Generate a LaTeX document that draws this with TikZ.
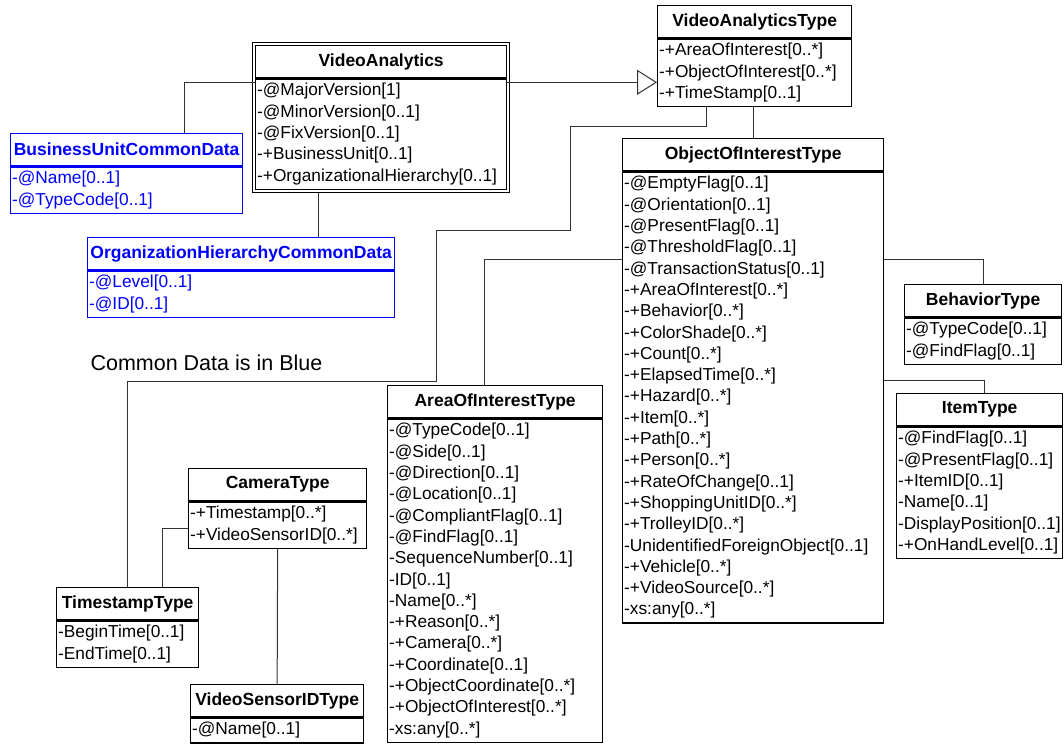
\documentclass[tikz,border=0pt]{standalone}
\usepackage{fontspec}
\setmainfont{Liberation Sans}
\usetikzlibrary{positioning, fit, arrows.meta}

\begin{document}
\begin{tikzpicture}[x=1pt, y=-1pt,
  classhead/.style={rectangle, draw, line width=1.3pt, inner sep=0pt, minimum height=32pt, font=\fontsize{17.5}{21}\selectfont\bfseries},
  classbody/.style={rectangle, draw, line width=1.3pt, inner xsep=1.5pt, inner ysep=4.5pt, align=left, font=\fontsize{17.3}{21.3}\selectfont},
  common/.style={draw=blue, text=blue},
  link/.style={draw=black!80, line width=1pt}]

  \useasboundingbox (0,0) rectangle (1064,746);

  % Nodes
  \node[classhead, minimum width=251pt, anchor=north west] (va) at (255,45) {VideoAnalytics};
  \node[classbody, text width=248pt, below=0pt of va] (va-attr) {-@MajorVersion[1]\\-@MinorVersion[0..1]\\-@FixVersion[0..1]\\-+BusinessUnit[0..1]\\-+OrganizationalHierarchy[0..1]};
  \node[fit=(va)(va-attr), draw, line width=1.3pt, inner sep=2.5pt] (va-frame) {};

  \node[classhead, common, minimum width=232pt, anchor=north west] (bucd) at (10,133) {BusinessUnitCommonData};
  \node[classbody, common, text width=229pt, below=0pt of bucd] (bucd-attr) {-@Name[0..1]\\-@TypeCode[0..1]};

  \node[classhead, common, minimum width=307pt, anchor=north west] (ohcd) at (87,237) {OrganizationHierarchyCommonData};
  \node[classbody, common, text width=304pt, below=0pt of ohcd] (ohcd-attr) {-@Level[0..1]\\-@ID[0..1]};

  \node[classhead, minimum width=194pt, anchor=north west] (vat) at (657,5) {VideoAnalyticsType};
  \node[classbody, text width=191pt, below=0pt of vat] (vat-attr) {-+AreaOfInterest[0..*]\\-+ObjectOfInterest[0..*]\\-+TimeStamp[0..1]};

  \node[classhead, minimum width=261pt, anchor=north west] (oit) at (622,138) {ObjectOfInterestType};
  \node[classbody, text width=258pt, below=0pt of oit] (oit-attr) {-@EmptyFlag[0..1]\\-@Orientation[0..1]\\-@PresentFlag[0..1]\\-@ThresholdFlag[0..1]\\-@TransactionStatus[0..1]\\-+AreaOfInterest[0..*]\\-+Behavior[0..*]\\-+ColorShade[0..*]\\-+Count[0..*]\\-+ElapsedTime[0..*]\\-+Hazard[0..*]\\-+Item[0..*]\\-+Path[0..*]\\-+Person[0..*]\\-+RateOfChange[0..1]\\-+ShoppingUnitID[0..*]\\-+TrolleyID[0..*]\\-UnidentifiedForeignObject[0..1]\\-+Vehicle[0..*]\\-+VideoSource[0..*]\\-xs:any[0..*]};

  \node[classhead, minimum width=215pt, anchor=north west] (aoit) at (387,385) {AreaOfInterestType};
  \node[classbody, text width=212pt, below=0pt of aoit] (aoit-attr) {-@TypeCode[0..1]\\-@Side[0..1]\\-@Direction[0..1]\\-@Location[0..1]\\-@CompliantFlag[0..1]\\-@FindFlag[0..1]\\-SequenceNumber[0..1]\\-ID[0..1]\\-Name[0..*]\\-+Reason[0..*]\\-+Camera[0..*]\\-+Coordinate[0..1]\\-+ObjectCoordinate[0..*]\\-+ObjectOfInterest[0..*]\\-xs:any[0..*]};

  \node[classhead, minimum width=157pt, anchor=north west] (bt) at (904,284) {BehaviorType};
  \node[classbody, text width=154pt, below=0pt of bt] (bt-attr) {-@TypeCode[0..1]\\-@FindFlag[0..1]};

  \node[classhead, minimum width=166pt, anchor=north west] (it) at (896,393) {ItemType};
  \node[classbody, text width=163pt, below=0pt of it] (it-attr) {-@FindFlag[0..1]\\-@PresentFlag[0..1]\\-+ItemID[0..1]\\-Name[0..1]\\-DisplayPosition[0..1]\\-+OnHandLevel[0..1]};

  \node[classhead, minimum width=178pt, anchor=north west] (ct) at (188,468) {CameraType};
  \node[classbody, text width=175pt, below=0pt of ct] (ct-attr) {-+Timestamp[0..*]\\-+VideoSensorID[0..*]};

  \node[classhead, minimum width=142pt, anchor=north west] (tst) at (56,587) {TimestampType};
  \node[classbody, text width=139pt, below=0pt of tst] (tst-attr) {-BeginTime[0..1]\\-EndTime[0..1]};

  \node[classhead, minimum width=173pt, anchor=north west] (vsit) at (190,684) {VideoSensorIDType};
  \node[classbody, text width=170pt, below=0pt of vsit] (vsit-attr) {-@Name[0..1]};

  \node[anchor=west, font=\fontsize{21.5}{24}\selectfont] (legend) at (87,363) {Common Data is in Blue};

  % Links
  \coordinate (ohcd-in) at ([xshift=231pt]ohcd.north west);
  \draw[link] ([xshift=174pt]bucd.north west) |- ([yshift=-4pt]va-attr.north west);
  \draw[link] (ohcd-in) -- (ohcd-in |- va-frame.south);
  \draw[link, -{Triangle[open, length=20pt, width=25pt]}] ([yshift=-4pt]va-attr.north east) -- ([yshift=-44pt]vat-attr.north west);
  \draw[link] (oit.north) -- (oit.north |- vat-attr.south);
  \draw[link] ([xshift=49pt]vat-attr.south west) |- ++(-136,19) |- ++(-134,104) |- ++(-309,151) -- ([xshift=71pt]tst.north west);
  \draw[link] ([yshift=-88pt]oit-attr.north west) -| ([xshift=97pt]aoit.north west);
  \draw[link] ([yshift=-88pt]oit-attr.north east) -| (bt.north);
  \draw[link] ([yshift=-209pt]oit-attr.north east) -| ([xshift=88pt]it.north west);
  \draw[link] ([yshift=-27pt]ct-attr.north west) -| ([xshift=106pt]tst.north west);
  \draw[link] (ct-attr.south) -- (vsit.north);

\end{tikzpicture}
\end{document}
